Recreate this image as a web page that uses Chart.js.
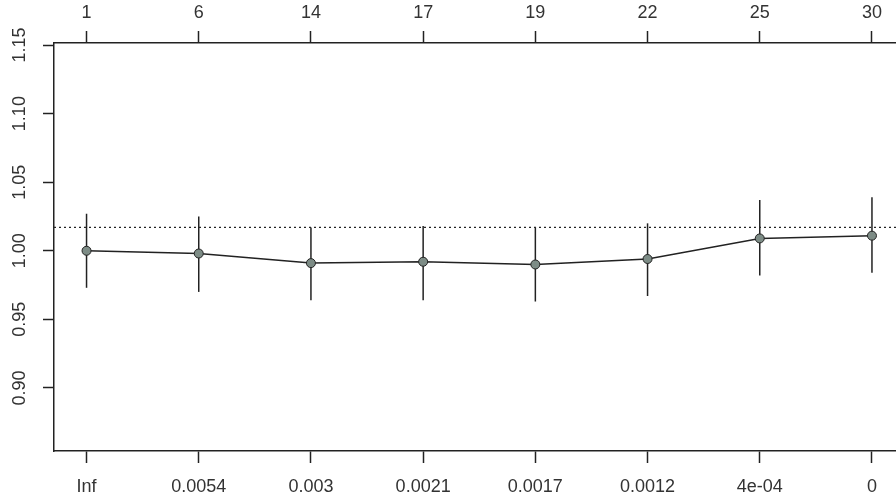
<!DOCTYPE html>
<html>
<head>
<meta charset="utf-8">
<script src="https://cdn.jsdelivr.net/npm/chart.js@4/dist/chart.umd.min.js"></script>
<style>
  html, body { margin: 0; padding: 0; background: #fff; overflow: hidden; }
  #wrap { width: 910px; height: 504px; }
</style>
</head>
<body>
<div id="wrap"><canvas id="chart"></canvas></div>
<script>
// values
const bottomLabels = ['Inf', '0.0054', '0.003', '0.0021', '0.0017', '0.0012', '4e-04', '0'];
const topLabels = ['1', '6', '14', '17', '19', '22', '25', '30'];
const meanErr = [1.000, 0.998, 0.991, 0.992, 0.990, 0.994, 1.009, 1.011];
const upperErr = [1.027, 1.025, 1.017, 1.018, 1.017, 1.020, 1.037, 1.039];
const lowerErr = [0.973, 0.970, 0.964, 0.964, 0.963, 0.967, 0.982, 0.984];
const refLine = 1.017;
const yTicks = [0.90, 0.95, 1.00, 1.05, 1.10, 1.15];

const xMin = -0.29;
const xMax = 7.29;
const ink = '#222';
const fontFamily = '"Liberation Sans", Arial, sans-serif';

const linePoints = meanErr.map((v, i) => ({ x: i, y: v }));
const refPoints = [{ x: xMin, y: refLine }, { x: xMax, y: refLine }];

// error bars and rotated y labels
const extras = {
    id: 'extras',
    beforeDatasetsDraw(chart) {
        const ctx = chart.ctx;
        const xs = chart.scales.x;
        const ys = chart.scales.y;
        ctx.save();
        ctx.strokeStyle = ink;
        ctx.lineWidth = 1.5;
        for (let i = 0; i < meanErr.length; i++) {
            const px = xs.getPixelForValue(i);
            ctx.beginPath();
            ctx.moveTo(px, ys.getPixelForValue(upperErr[i]));
            ctx.lineTo(px, ys.getPixelForValue(lowerErr[i]));
            ctx.stroke();
        }
        ctx.restore();
    },
    afterDraw(chart) {
        const ctx = chart.ctx;
        const ys = chart.scales.y;
        ctx.fillStyle = '#333';
        ctx.font = '18px ' + fontFamily;
        ctx.textAlign = 'center';
        ctx.textBaseline = 'middle';
        yTicks.forEach(v => {
            ctx.save();
            ctx.translate(20, ys.getPixelForValue(v));
            ctx.rotate(-Math.PI / 2);
            ctx.fillText(v.toFixed(2), 0, 0);
            ctx.restore();
        });
    }
};

const intTicks = scale => {
    scale.ticks = bottomLabels.map((_, i) => ({ value: i }));
};

new Chart(document.getElementById('chart'), {
    type: 'line',
    data: {
        datasets: [{
            data: refPoints,
            borderColor: ink,
            borderWidth: 1.2,
            borderDash: [2, 3],
            pointRadius: 0
        }, {
            data: linePoints,
            borderColor: ink,
            borderWidth: 1.5,
            pointRadius: 4.5,
            pointBackgroundColor: '#7d8c86',
            pointBorderColor: ink,
            pointBorderWidth: 1
        }]
    },
    options: {
        responsive: true,
        maintainAspectRatio: false,
        animation: false,
        layout: { padding: { left: 0, right: 4, top: 0, bottom: 0 } },
        plugins: { legend: { display: false }, tooltip: { enabled: false } },
        scales: {
            x: {
                type: 'linear',
                position: 'bottom',
                min: xMin,
                max: xMax,
                afterBuildTicks: intTicks,
                afterFit: s => { s.height = 53; },
                grid: { drawOnChartArea: false, drawTicks: true, tickLength: 12, tickColor: ink, tickWidth: 1.5 },
                border: { display: true, color: ink, width: 1.5 },
                ticks: {
                    padding: 13,
                    color: '#333',
                    font: { family: fontFamily, size: 18 },
                    maxRotation: 0,
                    autoSkip: false,
                    callback: v => bottomLabels[v]
                }
            },
            x2: {
                type: 'linear',
                position: 'top',
                min: xMin,
                max: xMax,
                afterBuildTicks: intTicks,
                afterFit: s => { s.height = 43; },
                grid: { drawOnChartArea: false, drawTicks: true, tickLength: 12, tickColor: ink, tickWidth: 1.5 },
                border: { display: true, color: ink, width: 1.5 },
                ticks: {
                    padding: 7,
                    color: '#333',
                    font: { family: fontFamily, size: 18 },
                    maxRotation: 0,
                    autoSkip: false,
                    callback: v => topLabels[v]
                }
            },
            y: {
                type: 'linear',
                min: 0.854,
                max: 1.1515,
                afterBuildTicks: s => { s.ticks = yTicks.map(v => ({ value: v })); },
                afterFit: s => { s.width = 54; },
                grid: { drawOnChartArea: false, drawTicks: true, tickLength: 11, tickColor: ink, tickWidth: 1.5 },
                border: { display: true, color: ink, width: 1.5 },
                ticks: { display: false }
            }
        }
    },
    plugins: [extras]
});
</script>
</body>
</html>
